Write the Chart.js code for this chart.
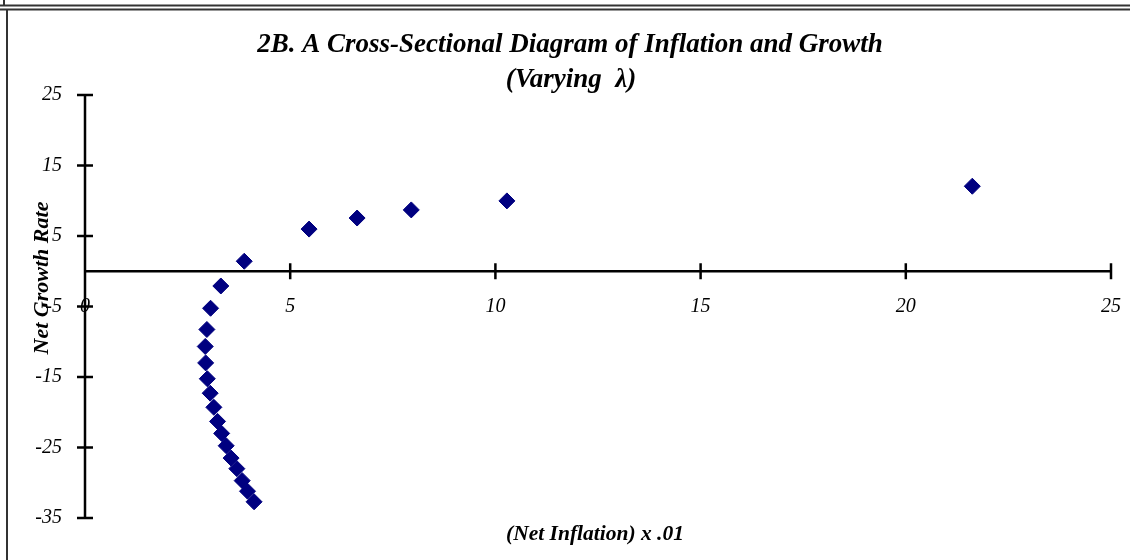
<!DOCTYPE html>
<html>
<head>
<meta charset="utf-8">
<script src="https://cdn.jsdelivr.net/npm/chart.js@4.4.1/dist/chart.umd.min.js"></script>
<style>
html,body{margin:0;padding:0;background:#fff;}
#wrap{position:relative;width:1130px;height:560px;}
</style>
</head>
<body>
<div id="wrap"><canvas id="c" width="1130" height="560"></canvas></div>
<script>
// ---- chart text ----
const titleLines = ["2B. A Cross-Sectional Diagram of Inflation and Growth", "(Varying  λ)"];
const xAxisTitle = "(Net Inflation) x .01";
const yAxisTitle = "Net Growth Rate";

// ---- tick labels ----
const xTicks = [0, 5, 10, 15, 20, 25];
const yTicks = [-35, -25, -15, -5, 5, 15, 25];

// ---- series values ----
const inflation = [21.62, 10.28, 7.95, 6.63, 5.46, 3.88, 3.31, 3.06, 2.97, 2.93, 2.94, 2.98, 3.05, 3.14, 3.23, 3.33, 3.44, 3.56, 3.70, 3.83, 3.96, 4.12];
const growth    = [12.06, 9.98, 8.70, 7.55, 5.98, 1.42, -2.09, -5.25, -8.26, -10.67, -13.00, -15.25, -17.30, -19.30, -21.30, -23.00, -24.75, -26.50, -28.00, -29.70, -31.20, -32.70];

const points = inflation.map((x, i) => ({ x: x, y: growth[i] }));

const SERIF = '"Liberation Serif", "Times New Roman", serif';

const decor = {
  id: 'decor',
  beforeDraw(chart) {
    const ctx = chart.ctx;
    ctx.save();
    ctx.fillStyle = '#fff';
    ctx.fillRect(0, 0, chart.width, chart.height);
    ctx.strokeStyle = '#333';
    ctx.lineWidth = 2;
    ctx.beginPath();
    ctx.moveTo(0, 5.5); ctx.lineTo(chart.width, 5.5);
    ctx.moveTo(0, 9.5); ctx.lineTo(chart.width, 9.5);
    ctx.moveTo(4, 0); ctx.lineTo(4, 5.5);
    ctx.moveTo(7, 9.5); ctx.lineTo(7, chart.height);
    ctx.stroke();
    ctx.restore();
  },
  beforeDatasetsDraw(chart) {
    const ctx = chart.ctx;
    const xs = chart.scales.x, ys = chart.scales.y;
    const x0 = xs.getPixelForValue(0);
    const y0 = ys.getPixelForValue(0);
    ctx.save();
    ctx.strokeStyle = '#000';
    ctx.lineWidth = 2.5;
    ctx.beginPath();
    ctx.moveTo(x0, ys.getPixelForValue(yTicks[yTicks.length - 1]));
    ctx.lineTo(x0, ys.getPixelForValue(yTicks[0]));
    ctx.moveTo(xs.getPixelForValue(xTicks[0]), y0);
    ctx.lineTo(xs.getPixelForValue(xTicks[xTicks.length - 1]), y0);
    yTicks.forEach(v => {
      const p = ys.getPixelForValue(v);
      ctx.moveTo(x0 - 8, p); ctx.lineTo(x0 + 8, p);
    });
    xTicks.forEach(v => {
      if (v === 0) return;
      const p = xs.getPixelForValue(v);
      ctx.moveTo(p, y0 - 8); ctx.lineTo(p, y0 + 8);
    });
    ctx.stroke();
    ctx.restore();
  },
  afterDraw(chart) {
    const ctx = chart.ctx;
    ctx.save();
    ctx.fillStyle = '#000';
    ctx.textAlign = 'center';
    ctx.textBaseline = 'middle';
    ctx.font = 'italic bold 27px ' + SERIF;
    ctx.fillText(titleLines[0], 570, 45);
    ctx.fillText(titleLines[1], 571, 80);
    ctx.font = 'italic bold 21.5px ' + SERIF;
    ctx.fillText(xAxisTitle, 595, 534);
    ctx.font = 'italic bold 22px ' + SERIF;
    ctx.translate(42, 278);
    ctx.rotate(-Math.PI / 2);
    ctx.fillText(yAxisTitle, 0, 0);
    ctx.restore();
  }
};

new Chart(document.getElementById('c'), {
  type: 'scatter',
  data: {
    datasets: [{
      label: 'Inflation vs Growth',
      data: points,
      pointStyle: 'rectRot',
      pointRadius: 8,
      pointHoverRadius: 8,
      backgroundColor: '#000080',
      borderColor: '#000080',
      borderWidth: 1
    }]
  },
  options: {
    responsive: false,
    devicePixelRatio: 1,
    animation: false,
    events: [],
    layout: { padding: { left: 0, right: 19, top: 95, bottom: 42 } },
    plugins: {
      legend: { display: false },
      title: { display: false },
      tooltip: { enabled: false }
    },
    scales: {
      x: {
        type: 'linear',
        min: 0,
        max: 25,
        position: { y: 0 },
        afterBuildTicks: s => { s.ticks = xTicks.map(v => ({ value: v })); },
        grid: { display: false, drawTicks: true, tickLength: 23 },
        border: { display: false },
        ticks: {
          color: '#000',
          padding: 0,
          maxRotation: 0,
          autoSkip: false,
          font: { family: SERIF, size: 20, style: 'italic' }
        }
      },
      y: {
        type: 'linear',
        min: -35,
        max: 25,
        position: 'left',
        afterBuildTicks: s => { s.ticks = yTicks.map(v => ({ value: v })); },
        afterFit: s => { s.width = 85; },
        grid: { display: false, drawTicks: false },
        border: { display: false },
        ticks: {
          color: '#000',
          padding: 23,
          autoSkip: false,
          font: { family: SERIF, size: 20, style: 'italic' }
        }
      }
    }
  },
  plugins: [decor]
});
</script>
</body>
</html>
